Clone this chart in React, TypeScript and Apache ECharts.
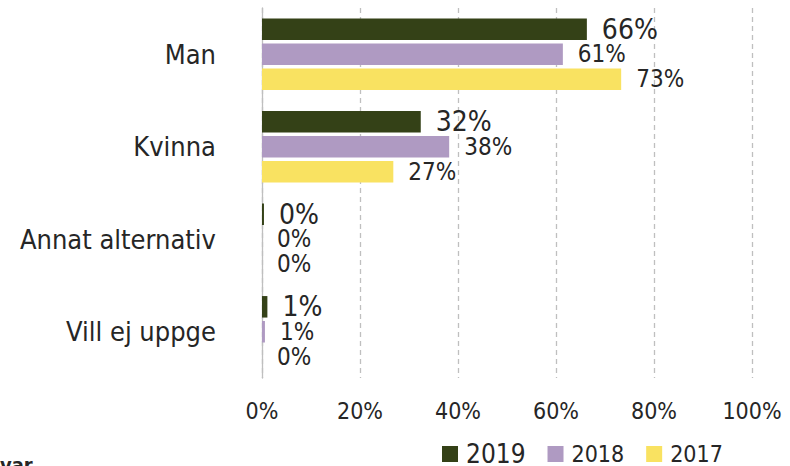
import React, { useEffect, useRef } from "react";
import * as echarts from "echarts";

const categories = ["Man", "Kvinna", "Annat alternativ", "Vill ej uppge"];
const seriesNames = ["2019", "2018", "2017"];
const values2019 = [66.3, 32.4, 0.4, 1.1];
const values2018 = [61.4, 38.2, 0, 0.6];
const values2017 = [73.3, 26.8, 0, 0];
const xTicks = [0, 20, 40, 60, 80, 100];
const footnote = "var";

const FONT = "'DejaVu Sans Condensed', 'DejaVu Sans', sans-serif";
const TXT = "#262626";
const COLORS = ["#344117", "#AF9AC2", "#F9E261"];

export default function App() {
  const ref = useRef<HTMLDivElement>(null);
  useEffect(() => {
    if (!ref.current) return;
    const chart = echarts.init(ref.current, undefined, { renderer: "svg" });
    const allValues = [values2019, values2018, values2017];
    const labelSizes = [28, 24, 24];
    chart.setOption({
      animation: false,
      textStyle: { fontFamily: FONT, color: TXT },
      grid: { left: 262, right: 38, top: 8, bottom: 88, containLabel: false },
      legend: {
        left: 437,
        top: 436,
        icon: "rect",
        itemWidth: 16,
        itemHeight: 16,
        itemGap: 22,
        textStyle: { fontFamily: FONT, color: TXT, fontSize: 23, padding: [0, 0, 0, 3] },
        data: seriesNames.map((n, i) => ({
          name: n,
          textStyle: { fontSize: i === 0 ? 26 : 23 },
        })),
      },
      xAxis: {
        type: "value",
        min: xTicks[0],
        max: xTicks[xTicks.length - 1],
        interval: 20,
        axisLine: { show: false },
        axisTick: { show: false },
        axisLabel: {
          formatter: "{value}%",
          fontSize: 23,
          color: TXT,
          fontFamily: FONT,
          margin: 21,
        },
        splitLine: { show: true, lineStyle: { color: "#bfbfbf", type: [5, 4], width: 1.3 } },
      },
      yAxis: {
        type: "category",
        inverse: true,
        data: categories,
        axisLine: { show: true, lineStyle: { color: "#bfbfbf", width: 1.3 } },
        axisTick: { show: false },
        axisLabel: { fontSize: 27, color: TXT, fontFamily: FONT, margin: 46 },
      },
      series: seriesNames.map((name, i) => ({
        name,
        type: "bar",
        data: allValues[i],
        barWidth: 21.5,
        barGap: "16%",
        itemStyle: { color: COLORS[i] },
        label: {
          show: true,
          position: "right",
          distance: 15,
          fontSize: labelSizes[i],
          color: TXT,
          fontFamily: FONT,
          formatter: (p: any) => Math.round(p.value) + "%",
        },
      })),
      graphic: [
        {
          type: "text",
          left: 0,
          top: 455,
          style: { text: footnote, fontSize: 20, fontWeight: "bold", fill: TXT, fontFamily: FONT },
        },
      ],
    });
    return () => chart.dispose();
  }, []);
  return (
    <div
      ref={ref}
      style={{ position: "absolute", left: 0, top: 0, width: 790, height: 466 }}
    />
  );
}
